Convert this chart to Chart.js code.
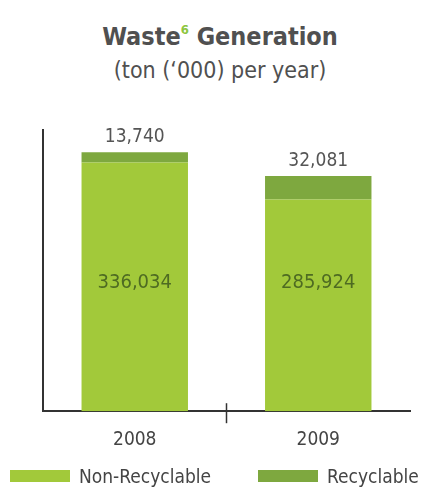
<!DOCTYPE html>
<html>
<head>
<meta charset="utf-8">
<script src="https://cdn.jsdelivr.net/npm/chart.js@4"></script>
<style>
  body { margin: 0; background: #fff; }
  #wrap { position: relative; width: 440px; height: 490px; }
  .title { position: absolute; left: 0; width: 440px; text-align: center; color: #505050;
           font-family: 'DejaVu Sans Condensed', sans-serif; }
  #t1 { top: 22px; font-size: 25px; font-weight: bold; }
  #t1 sup { color: #8dc63f; font-size: 13px; vertical-align: 11px; }
  #t2 { top: 57px; font-size: 23px; }
  canvas { position: absolute; left: 0; top: 0; }
  .leg { position: absolute; top: 465px; height: 22px; display: flex; align-items: center;
         font-family: 'DejaVu Sans Condensed', sans-serif; font-size: 19px; color: #444; white-space: nowrap; }
  .leg span.box { display: inline-block; width: 60px; height: 12px; margin-right: 9px; }
</style>
</head>
<body>
<div id="wrap">
  <div class="title" id="t1">Waste<sup>6</sup> Generation</div>
  <div class="title" id="t2">(ton (‘000) per year)</div>
  <canvas id="waste" width="440" height="490"></canvas>
</div>
<script>
var years = ["2008", "2009"];
var nonRecyclable = [336034, 285924];
var recyclable = [13740, 32081];
var seriesNames = ["Non-Recyclable", "Recyclable"];
var seriesColors = ["#a2c93a", "#7ea83f"];

var FONT = "'DejaVu Sans Condensed', sans-serif";

function fmt(v) {
    return v.toLocaleString("en-US");
}

// value labels: inside the lower segment and above the top one
var valueLabels = {
    id: "valueLabels",
    afterDatasetsDraw: function(chart) {
        var ctx = chart.ctx;
        var lower = chart.getDatasetMeta(0).data;
        var upper = chart.getDatasetMeta(1).data;
        ctx.save();
        ctx.textAlign = "center";
        ctx.textBaseline = "middle";
        for (var i = 0; i < years.length; i++) {
            ctx.font = "20px " + FONT;
            ctx.fillStyle = "#4e6b22";
            ctx.fillText(fmt(nonRecyclable[i]), lower[i].x, lower[i].base - 128);
            ctx.font = "19px " + FONT;
            ctx.fillStyle = "#555";
            ctx.fillText(fmt(recyclable[i]), upper[i].x, upper[i].y - 15);
        }
        // small tick between the two years
        var xs = chart.scales.x;
        var mid = xs.getPixelForValue(0.5);
        ctx.strokeStyle = "#333";
        ctx.lineWidth = 1.5;
        ctx.beginPath();
        ctx.moveTo(mid, xs.top - 8);
        ctx.lineTo(mid, xs.top + 12);
        ctx.stroke();
        ctx.restore();
    }
};

var chart = new Chart(document.getElementById("waste"), {
    type: "bar",
    data: {
        labels: years,
        datasets: [{
            label: seriesNames[0],
            data: nonRecyclable,
            backgroundColor: seriesColors[0]
        }, {
            label: seriesNames[1],
            data: recyclable,
            backgroundColor: seriesColors[1]
        }]
    },
    options: {
        responsive: false,
        animation: false,
        layout: { padding: { left: 35, right: 30, top: 130, bottom: 30 } },
        datasets: { bar: { barPercentage: 0.58, categoryPercentage: 1 } },
        scales: {
            x: {
                stacked: true,
                grid: { display: false },
                border: { color: "#333", width: 2 },
                ticks: { color: "#444", font: { family: FONT, size: 19 }, padding: 9 }
            },
            y: {
                stacked: true,
                min: 0,
                max: 380000,
                grid: { display: false },
                border: { color: "#333", width: 2 },
                ticks: { display: false }
            }
        },
        plugins: {
            tooltip: { enabled: false },
            legend: { display: false }
        }
    },
    plugins: [valueLabels]
});

// legend row under the chart, built from the datasets
var legLeft = [10, 258];
chart.data.datasets.forEach(function(ds, i) {
    var d = document.createElement("div");
    d.className = "leg";
    d.style.left = legLeft[i] + "px";
    d.innerHTML = '<span class="box" style="background:' + ds.backgroundColor + '"></span>' + ds.label;
    document.getElementById("wrap").appendChild(d);
});
</script>
</body>
</html>
